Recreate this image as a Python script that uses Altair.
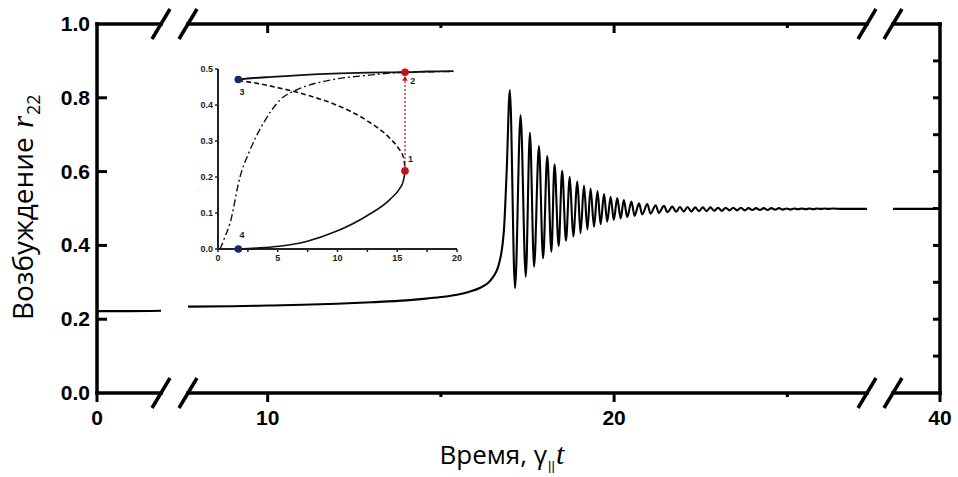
import altair as alt
import pandas as pd

# ---------------- main curve: excitation r22 vs time ----------------
seg_a_t = [0.0, 0.9, 1.85]
seg_a_r = [0.222, 0.222, 0.223]

rise_t = [7.7, 9.0, 10.0, 11.0, 12.0, 13.0, 14.0, 14.5, 15.0, 15.5, 15.8, 16.15, 16.44, 16.68, 16.82, 16.90]
rise_r = [0.234, 0.235, 0.237, 0.239, 0.242, 0.246, 0.251, 0.255, 0.260, 0.267, 0.274, 0.286, 0.306, 0.351, 0.442, 0.604]

osc_t = [16.99, 17.14, 17.30, 17.45, 17.57, 17.69, 17.83, 17.95, 18.07, 18.19, 18.28, 18.40,
         18.50, 18.61, 18.72, 18.82, 18.94, 19.03, 19.13, 19.23, 19.32, 19.42, 19.52, 19.61,
         19.71, 19.80, 19.90, 19.99, 20.09, 20.19, 20.28, 20.38, 20.50, 20.59, 20.72, 20.81,
         20.96, 21.05, 21.20, 21.29, 21.44, 21.54, 21.68]
osc_r = [0.821, 0.284, 0.753, 0.315, 0.705, 0.342, 0.669, 0.365, 0.642, 0.383, 0.620, 0.398,
         0.602, 0.413, 0.586, 0.424, 0.573, 0.433, 0.562, 0.443, 0.554, 0.451, 0.547, 0.458,
         0.539, 0.464, 0.532, 0.469, 0.528, 0.473, 0.523, 0.477, 0.519, 0.480, 0.514, 0.484,
         0.512, 0.486, 0.509, 0.488, 0.507, 0.490, 0.505]

late_t = [21.79, 21.90, 22.01, 22.12, 22.23, 22.34, 22.45, 22.56, 22.67, 22.78, 22.89, 23.00,
          23.11, 23.22, 23.33, 23.44, 23.55, 23.66, 23.77, 23.88, 23.99, 24.10, 24.21, 24.32,
          24.43, 24.54, 24.65, 24.76, 24.87, 24.98, 25.09, 25.20, 25.31, 25.42, 25.53, 25.64,
          25.75, 25.86, 25.97, 26.08, 26.19, 26.30, 26.60, 27.30]
late_r = [0.491, 0.504, 0.492, 0.504, 0.492, 0.503, 0.493, 0.503, 0.493, 0.503, 0.494, 0.502,
          0.494, 0.502, 0.495, 0.502, 0.495, 0.502, 0.495, 0.501, 0.496, 0.501, 0.496, 0.501,
          0.496, 0.501, 0.497, 0.501, 0.497, 0.500, 0.497, 0.500, 0.498, 0.500, 0.498, 0.500,
          0.498, 0.500, 0.499, 0.500, 0.499, 0.500, 0.499, 0.499]

seg_c_t = [38.6, 40.0]
seg_c_r = [0.499, 0.499]

# broken time axis: visible pieces [0,1.85], [7.7,27.3], [38.6,40]
x_pieces = [0.0, 1.85, 7.7, 27.3, 38.6, 40.0]
x_labels = [0, 10, 20, 40]
x_minor = [15, 25]
x_top_major = [10, 20]
y_labels = [0.0, 0.2, 0.4, 0.6, 0.8, 1.0]
y_left_ticks = [0.2, 0.4, 0.6, 0.8]
y_right_ticks = [0.1, 0.2, 0.3, 0.4, 0.5, 0.6, 0.7, 0.8, 0.9]

# ---------------- inset: stationary branches ----------------
up_x = [1.7, 3.0, 4.5, 6.0, 8.0, 10.2, 12.5, 15.6, 17.5, 19.7]
up_y = [0.471, 0.475, 0.478, 0.481, 0.485, 0.488, 0.490, 0.491, 0.493, 0.494]
dash_x = [1.7, 3.3, 4.9, 7.4, 9.9, 12.4, 14.4, 15.1, 15.5, 15.65]
dash_y = [0.468, 0.460, 0.449, 0.428, 0.400, 0.358, 0.307, 0.280, 0.256, 0.228]
low_x = [1.7, 3.5, 4.9, 7.4, 9.9, 12.4, 14.4, 15.2, 15.5, 15.65]
low_y = [0.0, 0.003, 0.007, 0.021, 0.049, 0.091, 0.138, 0.168, 0.188, 0.213]
dd_x = [0.17, 0.6, 1.0, 1.84, 2.68, 3.79, 5.19, 6.86, 9.37, 12.7, 15.6, 19.7]
dd_y = [0.0, 0.035, 0.071, 0.200, 0.275, 0.349, 0.414, 0.446, 0.469, 0.483, 0.491, 0.493]
jump_x = [15.65, 15.65]
jump_y = [0.217, 0.491]
arrow_x = [15.65]
arrow_y = [0.474]
red_pts_x = [15.65, 15.65]
red_pts_y = [0.217, 0.491]
blue_pts_x = [1.7, 1.7]
blue_pts_y = [0.471, 0.0]
pt_labels = ["1", "2", "3", "4"]
pt_label_x = [16.1, 16.3, 2.0, 2.0]
pt_label_y = [0.25, 0.468, 0.436, 0.039]
inset_x_ticks = [0, 2.5, 5, 7.5, 10, 12.5, 15, 17.5, 20]
inset_x_labels = [0, 5, 10, 15, 20]
inset_y_ticks = [0.0, 0.1, 0.2, 0.3, 0.4, 0.5]

x_title_parts = ["Время, γ", "||", "t"]
y_title_parts = ["Возбуждение", "r", "22"]

# ---------------- build tables ----------------
curve_df = pd.concat([
    pd.DataFrame({"t": seg_a_t, "r": seg_a_r, "seg": "a"}),
    pd.DataFrame({"t": rise_t + osc_t + late_t, "r": rise_r + osc_r + late_r, "seg": "b"}),
    pd.DataFrame({"t": seg_c_t, "r": seg_c_r, "seg": "c"}),
], ignore_index=True)

W, H = 843, 369
xs = alt.Scale(domain=x_pieces, range=[0, 64, 91, 770, 796, 843], zero=False, nice=False)
ys = alt.Scale(domain=[0, 1], zero=False, nice=False)
lab_font = "Liberation Sans"
title_font = "Open Sans"

def X(f):
    return alt.X(f, scale=xs, axis=None)

def Y(f):
    return alt.Y(f, scale=ys, axis=None)

curve = alt.Chart(curve_df).mark_line(color="black", strokeWidth=2.1, interpolate="monotone").encode(
    x=X("t:Q"), y=Y("r:Q"), detail="seg:N")

pieces = list(zip(x_pieces[0::2], x_pieces[1::2]))
frame_h_df = pd.DataFrame([{"a": a, "b": b, "r": rr} for (a, b) in pieces for rr in (0.0, 1.0)])
frame_h = alt.Chart(frame_h_df).mark_rule(color="black", strokeWidth=3.5, strokeCap="square").encode(
    x=X("a:Q"), x2="b:Q", y=Y("r:Q"))

frame_v_df = pd.DataFrame({"t": [x_pieces[0], x_pieces[-1]], "r0": [0.0, 0.0], "r1": [1.0, 1.0]})
frame_v = alt.Chart(frame_v_df).mark_rule(color="black", strokeWidth=3.5, strokeCap="square").encode(
    x=X("t:Q"), y=Y("r0:Q"), y2="r1:Q")

slash_df = pd.DataFrame([{"t": t, "r": rr} for t in x_pieces[1:-1] for rr in (0.0, 1.0)])
slashes = alt.Chart(slash_df).mark_rule(color="black", strokeWidth=3.5, xOffset=-9, yOffset=15,
                                        x2Offset=9, y2Offset=-15).encode(
    x=X("t:Q"), x2="t:Q", y=Y("r:Q"), y2="r:Q")

def xticks(vals, r, length):
    df = pd.DataFrame({"t": vals, "r": [r] * len(vals)})
    return alt.Chart(df).mark_rule(color="black", strokeWidth=3, y2Offset=length).encode(
        x=X("t:Q"), y=Y("r:Q"), y2="r:Q")

def yticks(vals, t, length):
    df = pd.DataFrame({"r": vals, "t": [t] * len(vals)})
    return alt.Chart(df).mark_rule(color="black", strokeWidth=3, x2Offset=length).encode(
        y=Y("r:Q"), x=X("t:Q"), x2="t:Q")

ticks = [
    xticks(x_labels, 0.0, 9), xticks(x_minor, 0.0, 4),
    xticks(x_top_major, 1.0, 9), xticks(x_minor, 1.0, 4),
    yticks(y_left_ticks, 0.0, 10), yticks(y_right_ticks, 40.0, -7),
]

xlab = alt.Chart(pd.DataFrame({"t": x_labels, "r": [0.0] * len(x_labels),
                               "s": [str(v) for v in x_labels]})).mark_text(
    font=lab_font, fontSize=21, fontWeight="bold", color="black", align="center",
    baseline="alphabetic", dy=32).encode(x=X("t:Q"), y=Y("r:Q"), text="s:N")
ylab = alt.Chart(pd.DataFrame({"r": y_labels, "t": [0.0] * len(y_labels),
                               "s": [f"{v:.1f}" for v in y_labels]})).mark_text(
    font=lab_font, fontSize=21, fontWeight="bold", color="black", align="right",
    baseline="middle", dx=-7, dy=1).encode(x=X("t:Q"), y=Y("r:Q"), text="s:N")

def txt(s, x, y, **kw):
    return alt.Chart(pd.DataFrame({"s": [s]})).mark_text(color="black", baseline="alphabetic", **kw).encode(
        text="s:N", x=alt.value(x), y=alt.value(y))

xt1 = txt(x_title_parts[0], 450, 440, font=title_font, fontSize=26, align="right")
xt2 = txt(x_title_parts[1], 451, 446, font="Liberation Sans", fontSize=13, align="left")
xt3 = txt(x_title_parts[2], 459, 440, font="Liberation Serif", fontStyle="italic", fontSize=30, align="left")

yt1 = txt(y_title_parts[0], -64, 296, font=title_font, fontSize=28, align="left", angle=270)
yt2 = txt(y_title_parts[1], -64, 104, font="Liberation Serif", fontStyle="italic", fontSize=31,
          align="left", angle=270)
yt3 = txt(y_title_parts[2], -57, 91, font=title_font, fontSize=18, align="left", angle=270)

main = alt.layer(curve, frame_h, frame_v, slashes, *ticks, xlab, ylab, xt1, xt2, xt3, yt1, yt2, yt3)

# ---------------- inset ----------------
ixs = alt.Scale(domain=[0, 20], range=[121, 360], zero=False, nice=False)
iys = alt.Scale(domain=[0, 0.5], range=[225, 45], zero=False, nice=False)

def IX(f):
    return alt.X(f, scale=ixs, axis=None)

def IY(f):
    return alt.Y(f, scale=iys, axis=None)

def iline(xv, yv, width, dash=None, color="#111"):
    kw = dict(color=color, strokeWidth=width, interpolate="monotone")
    if dash is not None:
        kw["strokeDash"] = dash
    return alt.Chart(pd.DataFrame({"x": xv, "y": yv})).mark_line(**kw).encode(x=IX("x:Q"), y=IY("y:Q"))

ax_col = "#222"
i_dom_x = alt.Chart(pd.DataFrame({"a": [0.0], "b": [20.0], "y": [0.0]})).mark_rule(
    color=ax_col, strokeWidth=2).encode(x=IX("a:Q"), x2="b:Q", y=IY("y:Q"))
i_dom_y = alt.Chart(pd.DataFrame({"x": [0.0], "a": [0.0], "b": [0.5]})).mark_rule(
    color=ax_col, strokeWidth=2).encode(x=IX("x:Q"), y=IY("a:Q"), y2="b:Q")
i_tick_x = alt.Chart(pd.DataFrame({"x": inset_x_ticks, "y": [0.0] * len(inset_x_ticks)})).mark_rule(
    color=ax_col, strokeWidth=1.5, y2Offset=3).encode(x=IX("x:Q"), y=IY("y:Q"), y2="y:Q")
i_tick_y = alt.Chart(pd.DataFrame({"y": inset_y_ticks, "x": [0.0] * len(inset_y_ticks)})).mark_rule(
    color=ax_col, strokeWidth=1.5, x2Offset=-3).encode(x=IX("x:Q"), x2="x:Q", y=IY("y:Q"))
i_lab_x = alt.Chart(pd.DataFrame({"x": inset_x_labels, "y": [0.0] * len(inset_x_labels),
                                  "s": [str(v) for v in inset_x_labels]})).mark_text(
    font=lab_font, fontSize=9, fontWeight="bold", color=ax_col, baseline="top", dy=5).encode(
    x=IX("x:Q"), y=IY("y:Q"), text="s:N")
i_lab_y = alt.Chart(pd.DataFrame({"y": inset_y_ticks, "x": [0.0] * len(inset_y_ticks),
                                  "s": [f"{v:.1f}" for v in inset_y_ticks]})).mark_text(
    font=lab_font, fontSize=9, fontWeight="bold", color=ax_col, align="right", baseline="middle",
    dx=-5).encode(x=IX("x:Q"), y=IY("y:Q"), text="s:N")

up = iline(up_x, up_y, 1.8)
low = iline(low_x, low_y, 1.6)
dashed = iline(dash_x, dash_y, 1.6, dash=[5, 3])
dashdot = iline(dd_x, dd_y, 1.4, dash=[7, 3, 2, 3])
jump = alt.Chart(pd.DataFrame({"x": jump_x, "y": jump_y})).mark_line(
    color="#d01818", strokeWidth=1.3, strokeDash=[2, 2]).encode(x=IX("x:Q"), y=IY("y:Q"))
arrow = alt.Chart(pd.DataFrame({"x": arrow_x, "y": arrow_y})).mark_point(
    shape="triangle-up", filled=True, size=28, color="#c01010", opacity=1).encode(x=IX("x:Q"), y=IY("y:Q"))
red_pts = alt.Chart(pd.DataFrame({"x": red_pts_x, "y": red_pts_y})).mark_circle(
    size=58, color="#c0121a", opacity=1).encode(x=IX("x:Q"), y=IY("y:Q"))
blue_pts = alt.Chart(pd.DataFrame({"x": blue_pts_x, "y": blue_pts_y})).mark_circle(
    size=58, color="#14286a", opacity=1).encode(x=IX("x:Q"), y=IY("y:Q"))
lbls = alt.Chart(pd.DataFrame({"x": pt_label_x, "y": pt_label_y, "s": pt_labels})).mark_text(
    font=lab_font, fontSize=9, fontWeight="bold", color="#222").encode(x=IX("x:Q"), y=IY("y:Q"), text="s:N")

inset = alt.layer(i_dom_x, i_dom_y, i_tick_x, i_tick_y, i_lab_x, i_lab_y,
                  up, low, dashed, dashdot, jump, arrow, red_pts, blue_pts, lbls)

chart = alt.layer(main, inset).resolve_scale(x="independent", y="independent").properties(
    width=W, height=H, autosize=alt.AutoSizeParams(type="none"),
    padding={"left": 97, "top": 24, "right": 18, "bottom": 84},
).configure_axis(grid=False).configure_view(stroke=None)

chart.save("out.html", embed_options={"renderer": "svg", "actions": False})
